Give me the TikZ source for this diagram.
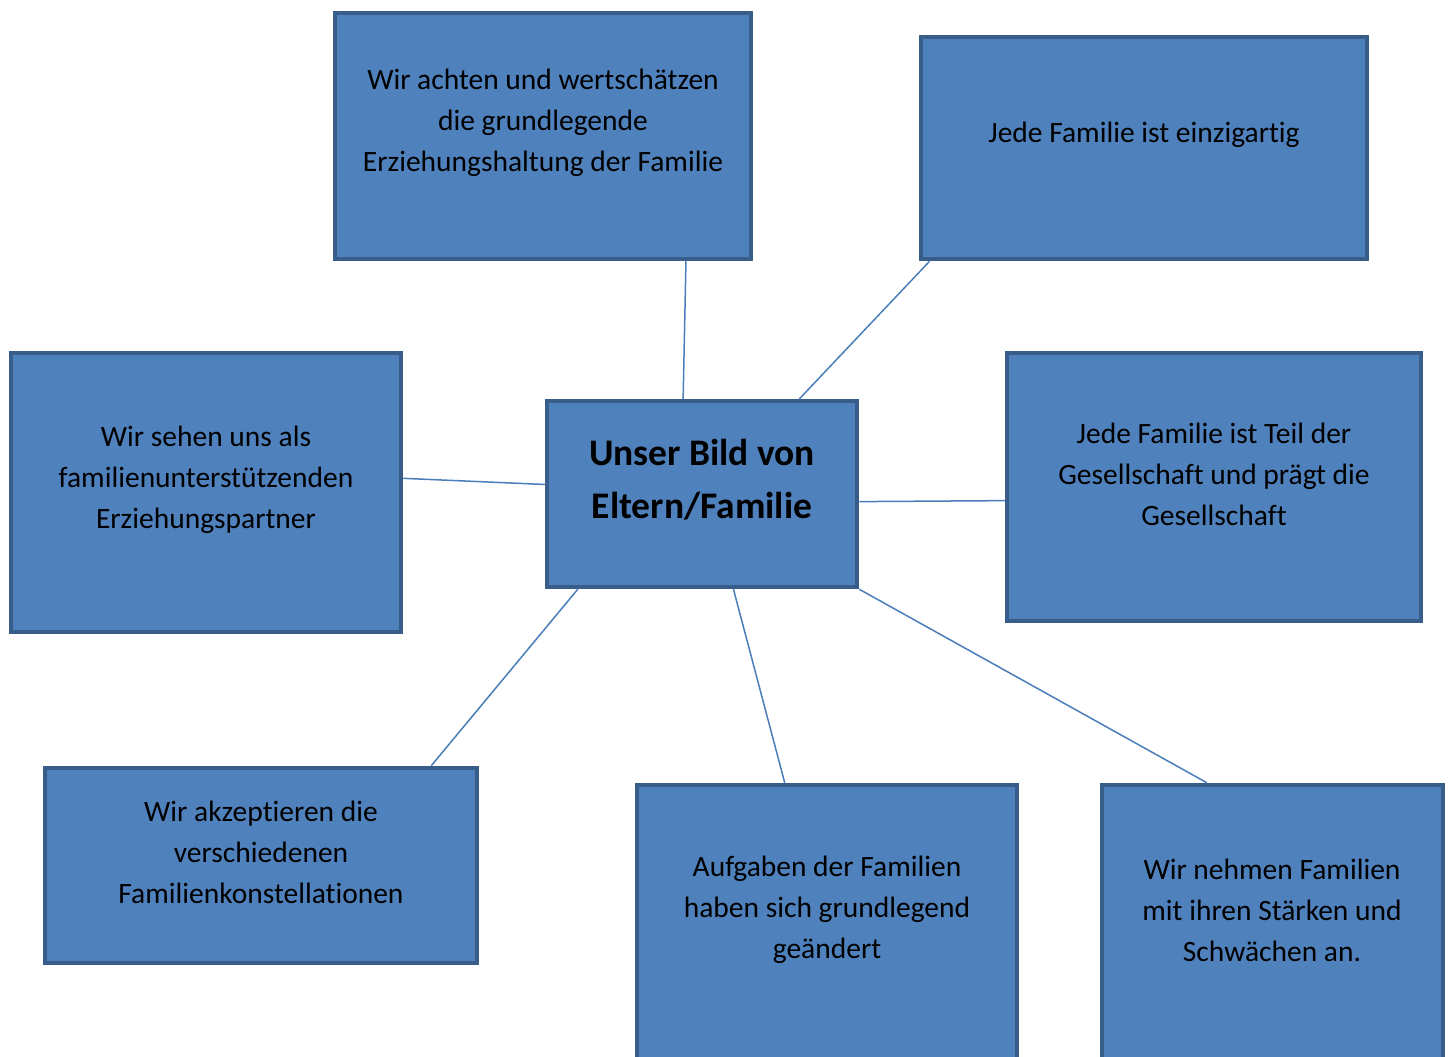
\documentclass[tikz,border=0pt]{standalone}
\usepackage{fontspec}
\setmainfont{Carlito}[Ligatures=NoCommon]
\usetikzlibrary{calc}
\definecolor{boxfill}{HTML}{4F81BD}
\definecolor{boxline}{HTML}{385D8A}
\definecolor{conn}{HTML}{4A7EBB}
\begin{document}
\begin{tikzpicture}[x=1pt,y=-1pt,
  box/.style={draw=boxline,fill=boxfill,line width=4.5pt,rectangle,inner sep=0pt},
  txt/.style={align=center,font=\fontsize{29.5}{41}\selectfont,text=black,inner sep=0pt},
  bigtxt/.style={align=center,font=\fontsize{37.5}{53}\selectfont\bfseries,text=black,inner sep=0pt},
  conn/.style={draw=conn,line width=1.5pt}]
\useasboundingbox (0,0) rectangle (1454,1057);
\clip (0,0) rectangle (1454,1057);
% boxes (outer edges)
\node[box,minimum width=416pt,minimum height=246pt] (b1) at (543,136) {};
\node[box,minimum width=446pt,minimum height=222pt] (b2) at (1144,148) {};
\node[box,minimum width=390pt,minimum height=279pt] (b3) at (206,492.5) {};
\node[box,minimum width=310pt,minimum height=186pt] (c) at (702,494) {};
\node[box,minimum width=414pt,minimum height=268pt] (b5) at (1214,487) {};
\node[box,minimum width=432pt,minimum height=195pt] (b6) at (261,865.5) {};
\node[box,minimum width=380pt,minimum height=300pt] (b7) at (827,935) {};
\node[box,minimum width=341pt,minimum height=300pt] (b8) at (1272.5,935) {};
% texts
\node[txt] (t1) at (543,123) {Wir achten und wertschätzen\\die grundlegende\\Erziehungshaltung der Familie};
\node[txt] (t2) at (1144,135) {Jede Familie ist einzigartig};
\node[txt] (t3) at (206,480) {Wir sehen uns als\\familienunterstützenden\\Erziehungspartner};
\node[bigtxt] (tc) at (702,480) {Unser Bild von\\Eltern/Familie};
\node[txt] (t5) at (1214,474) {Jede Familie ist Teil der\\Gesellschaft und prägt die\\Gesellschaft};
\node[txt] (t6) at (261,852) {Wir akzeptieren die\\verschiedenen\\Familienkonstellationen};
\node[txt] (t7) at (827,910) {Aufgaben der Familien\\haben sich grundlegend\\geändert};
\node[txt] (t8) at (1272,910) {Wir nehmen Familien\\mit ihren Stärken und\\Schwächen an.};
% connector end points on box borders
\coordinate (p1) at ($(b1.south west)!0.84!(b1.south east)$);
\coordinate (q1) at ($(c.north west)!0.44!(c.north east)$);
\coordinate (p2) at ($(b2.south west)!0.024!(b2.south east)$);
\coordinate (q2) at ($(c.north west)!0.81!(c.north east)$);
\coordinate (p3) at ($(b3.north east)!0.45!(b3.south east)$);
\coordinate (q3) at ($(c.north west)!0.45!(c.south west)$);
\coordinate (p5) at ($(b5.north west)!0.55!(b5.south west)$);
\coordinate (q5) at ($(c.north east)!0.54!(c.south east)$);
\coordinate (p6) at ($(b6.north west)!0.89!(b6.north east)$);
\coordinate (q6) at ($(c.south west)!0.105!(c.south east)$);
\coordinate (p7) at ($(b7.north west)!0.39!(b7.north east)$);
\coordinate (q7) at ($(c.south west)!0.60!(c.south east)$);
\coordinate (p8) at ($(b8.north west)!0.31!(b8.north east)$);
\coordinate (q8) at (c.south east);
\draw[conn] (p1) -- (q1);
\draw[conn] (p2) -- (q2);
\draw[conn] (p3) -- (q3);
\draw[conn] (p5) -- (q5);
\draw[conn] (p6) -- (q6);
\draw[conn] (p7) -- (q7);
\draw[conn] (p8) -- (q8);
\end{tikzpicture}
\end{document}
